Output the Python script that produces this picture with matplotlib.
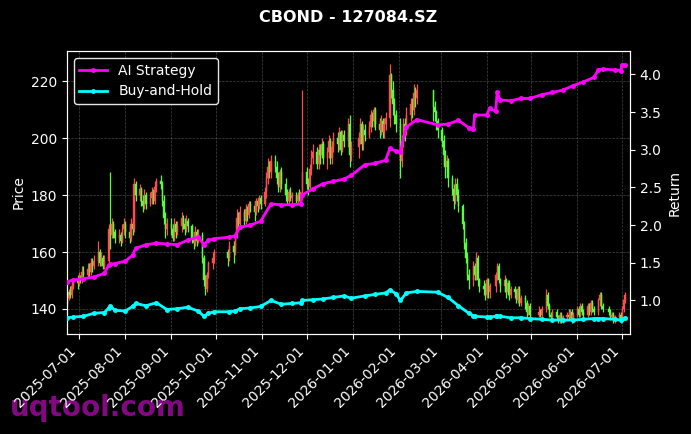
import numpy as np
import pandas as pd
import matplotlib
matplotlib.use("Agg")
import matplotlib.pyplot as plt
import matplotlib.dates as mdates
from matplotlib.lines import Line2D

# ---------------- data ----------------
title = "CBOND - 127084.SZ"
holidays = ["2025-10-01", "2025-10-02", "2025-10-03", "2025-10-06", "2025-10-07",
            "2025-10-08", "2026-01-01", "2026-01-02", "2026-02-16", "2026-02-17",
            "2026-02-18", "2026-02-19", "2026-02-20", "2026-02-23", "2026-04-06",
            "2026-05-01", "2026-05-04", "2026-05-05", "2026-06-19"]
start_date = "2025-06-23"
end_date = "2026-07-03"
first_open = 142

closes = [
    144, 146, 145, 148, 150,
    149, 151, 150, 153, 152,
    154, 153, 156, 155, 157,
    160, 156, 158, 155, 157,
    168, 166, 170, 167, 165,
    166, 164, 168, 170, 167,
    165, 170, 168, 184, 180,
    182, 178, 176, 180, 177,
    179, 181, 178, 183, 185,
    184, 178, 172, 168, 170,
    168, 165, 170, 167, 169,
    172, 170, 168, 171, 169,
    165, 163, 167, 164, 166,
    158, 150, 147, 152, 156,
    158, 160,
    158, 162,
    160, 166, 172, 170, 174,
    171, 175, 173, 177, 176,
    174, 178, 176, 179, 177,
    181, 186, 190, 188, 192,
    190, 186, 183, 188, 184,
    180, 178, 181, 179, 180,
    178, 180, 179, 181, 188,
    184, 183, 189, 193, 195,
    191, 196, 194, 198, 193,
    195, 199, 193, 197, 200,
    198, 202, 196, 201, 199,
    205, 194, 197,
    200, 205, 198, 203, 201,
    204, 208, 206, 210, 205,
    203, 206, 202, 205, 207,
    222, 217, 212, 208, 205,
    192, 199, 205, 203, 208,
    212, 210, 216, 214, 217,
    211, 209, 206, 203,
    199, 194, 190, 192, 186,
    182, 178, 184, 180, 176,
    170, 163, 158, 152, 150,
    155, 152, 158, 150, 148,
    147, 145, 150, 146, 148,
    152, 155, 150, 148,
    150, 146, 149, 145, 147,
    146, 143, 147, 142, 144,
    142, 139, 141, 138,
    139, 138, 140,
    145, 141, 138, 137, 139,
    137, 136, 138, 136, 137,
    138, 137, 139, 136, 138,
    140, 138, 141, 139, 138,
    141, 139, 142, 140, 139,
    143, 145, 141, 140,
    139, 137, 138, 136, 137,
    138, 136, 140, 143, 145,
]

highs = [
    146, 147, 148, 149, 151,
    152, 153, 152, 155, 155,
    156, 156, 158, 158, 159,
    164, 161, 160, 159, 159,
    170, 188, 172, 171, 168,
    168, 167, 170, 172, 171,
    169, 172, 171, 186, 185,
    184, 183, 180, 182, 181,
    181, 183, 182, 185, 186,
    187, 185, 180, 174, 172,
    172, 170, 172, 171, 171,
    174, 173, 172, 173, 172,
    170, 167, 169, 168, 168,
    167, 159, 152, 153, 157,
    160, 161,
    161, 164,
    164, 167, 175, 174, 176,
    175, 177, 176, 178, 178,
    178, 179, 179, 180, 180,
    183, 188, 193, 192, 194,
    194, 192, 188, 189, 190,
    186, 182, 182, 183, 181,
    181, 181, 182, 181, 217,
    190, 186, 191, 196, 198,
    197, 198, 198, 200, 199,
    197, 201, 200, 199, 202,
    202, 204, 203, 203, 203,
    207, 208, 199,
    202, 207, 206, 205, 205,
    206, 210, 209, 211, 211,
    207, 208, 207, 207, 209,
    226, 223, 220, 214, 210,
    207, 201, 207, 207, 211,
    214, 214, 219, 218, 219,
    213, 213, 210, 207,
    204, 201, 196, 194, 193,
    187, 184, 186, 186, 182,
    177, 171, 165, 160, 154,
    157, 156, 160, 159, 151,
    150, 149, 151, 151, 149,
    153, 156, 156, 151,
    152, 151, 150, 150, 148,
    148, 147, 148, 148, 145,
    145, 143, 142, 142,
    141, 140, 141,
    147, 146, 142, 139, 140,
    140, 138, 139, 139, 138,
    139, 140, 140, 140, 139,
    141, 141, 142, 142, 140,
    142, 142, 143, 143, 141,
    144, 146, 146, 142,
    141, 140, 139, 139, 138,
    139, 139, 141, 144, 146,
]

lows = [
    141, 143, 144, 144, 147,
    147, 148, 149, 149, 150,
    151, 151, 152, 153, 154,
    155, 155, 155, 154, 154,
    156, 161, 165, 165, 163,
    163, 162, 163, 166, 165,
    163, 164, 166, 167, 178,
    178, 176, 174, 175, 175,
    176, 177, 177, 177, 181,
    182, 176, 170, 165, 166,
    166, 164, 164, 165, 166,
    167, 168, 166, 167, 167,
    163, 161, 162, 162, 163,
    156, 148, 145, 146, 151,
    154, 156,
    155, 157,
    156, 159, 165, 168, 169,
    169, 170, 171, 172, 174,
    171, 173, 174, 175, 175,
    176, 179, 184, 186, 186,
    188, 184, 181, 181, 182,
    178, 177, 177, 178, 177,
    177, 177, 178, 177, 180,
    182, 180, 182, 187, 191,
    189, 189, 191, 193, 191,
    189, 193, 191, 191, 195,
    195, 196, 194, 195, 197,
    197, 190, 192,
    193, 198, 196, 196, 199,
    200, 202, 204, 204, 203,
    200, 201, 200, 200, 203,
    204, 214, 208, 205, 202,
    186, 190, 197, 199, 201,
    206, 207, 208, 211, 212,
    206, 206, 203, 200,
    197, 191, 186, 188, 183,
    180, 175, 177, 178, 174,
    168, 161, 156, 150, 147,
    148, 150, 150, 148, 146,
    145, 143, 144, 144, 144,
    146, 150, 149, 146,
    146, 144, 145, 143, 144,
    144, 142, 142, 141, 141,
    140, 137, 138, 137,
    137, 137, 137,
    139, 140, 137, 136, 136,
    136, 135, 135, 135, 135,
    136, 136, 136, 135, 135,
    137, 137, 137, 138, 137,
    137, 138, 138, 139, 138,
    138, 141, 140, 139,
    138, 136, 136, 135, 135,
    136, 135, 135, 139, 142,
]

line_dates = [
    "2025-06-23", "2025-06-27", "2025-07-04", "2025-07-11", "2025-07-18",
    "2025-07-21", "2025-07-22", "2025-07-25", "2025-08-01", "2025-08-06",
    "2025-08-08", "2025-08-15", "2025-08-22", "2025-08-29", "2025-09-05",
    "2025-09-12", "2025-09-19", "2025-09-23", "2025-09-26", "2025-09-30",
    "2025-10-10", "2025-10-14", "2025-10-17", "2025-10-24", "2025-10-31",
    "2025-11-07", "2025-11-14", "2025-11-21", "2025-11-27", "2025-11-28",
    "2025-12-05", "2025-12-12", "2025-12-19", "2025-12-26", "2025-12-31",
    "2026-01-09", "2026-01-16", "2026-01-23", "2026-01-26", "2026-01-30",
    "2026-02-02", "2026-02-06", "2026-02-13", "2026-02-27", "2026-03-06",
    "2026-03-13", "2026-03-20", "2026-03-23", "2026-03-24", "2026-04-01",
    "2026-04-03", "2026-04-07", "2026-04-08", "2026-04-10", "2026-04-17",
    "2026-04-24", "2026-04-30", "2026-05-08", "2026-05-15", "2026-05-22",
    "2026-05-29", "2026-06-05", "2026-06-12", "2026-06-15", "2026-06-18",
    "2026-06-26", "2026-06-30", "2026-07-01", "2026-07-03",
]
ai_strategy = [
    1.25, 1.27, 1.29, 1.31, 1.36,
    1.47, 1.48, 1.49, 1.52, 1.60,
    1.69, 1.74, 1.76, 1.75, 1.74,
    1.80, 1.84, 1.74, 1.80, 1.82,
    1.84, 1.86, 1.97, 2.00, 2.05,
    2.28, 2.27, 2.27, 2.28, 2.40,
    2.48, 2.55, 2.58, 2.61, 2.66,
    2.80, 2.82, 2.86, 3.02, 2.98,
    2.97, 3.30, 3.40, 3.33, 3.34,
    3.39, 3.29, 3.28, 3.46, 3.46,
    3.55, 3.51, 3.76, 3.66, 3.65,
    3.68, 3.68, 3.73, 3.76, 3.79,
    3.85, 3.90, 3.96, 4.06, 4.07,
    4.06, 4.05, 4.13, 4.12,
]
buy_and_hold = [
    0.77, 0.78, 0.79, 0.83, 0.84,
    0.90, 0.93, 0.87, 0.86, 0.92,
    0.96, 0.93, 0.97, 0.88, 0.89,
    0.91, 0.86, 0.79, 0.83, 0.85,
    0.85, 0.86, 0.89, 0.90, 0.92,
    1.00, 0.95, 0.96, 0.97, 1.00,
    1.01, 1.02, 1.04, 1.06, 1.03,
    1.06, 1.08, 1.10, 1.14, 1.09,
    1.00, 1.10, 1.12, 1.11, 1.04,
    0.93, 0.83, 0.80, 0.79, 0.78,
    0.78, 0.79, 0.80, 0.79, 0.77,
    0.77, 0.76, 0.75, 0.74, 0.74,
    0.74, 0.75, 0.76, 0.76, 0.76,
    0.75, 0.74, 0.76, 0.77,
]

# ---------------- build ----------------
dates = pd.bdate_range(start_date, end_date)
dates = dates[~dates.isin(pd.to_datetime(holidays))]
n = min(len(dates), len(closes))
dates = dates[:n]
closes = np.array(closes[:n], dtype=float)
opens = np.concatenate([[first_open], closes[:-1]])
highs = np.maximum(np.array(highs[:n], dtype=float), np.maximum(opens, closes))
lows = np.minimum(np.array(lows[:n], dtype=float), np.minimum(opens, closes))
xd = mdates.date2num(dates.to_pydatetime())

up_color = "#ff4d4d"
down_color = "#55ff3a"
colors = np.where(closes >= opens, up_color, down_color)

fig = plt.figure(figsize=(6.91, 4.34), dpi=100, facecolor="black")
ax = fig.add_axes([67 / 691, 1 - 334 / 434, 563 / 691, 283 / 434])
ax.set_facecolor("black")

ax.vlines(xd, lows, highs, colors=colors, linewidth=0.9, zorder=2)
body_bottom = np.minimum(opens, closes)
body_h = np.maximum(np.abs(closes - opens), 0.3)
ax.bar(xd, body_h, bottom=body_bottom, width=0.8, color=colors,
       edgecolor=colors, linewidth=0.3, zorder=2)

ax.set_ylim(131.2, 230.6)
x0 = mdates.date2num(pd.Timestamp("2025-07-01").to_pydatetime())
ax.set_xlim(x0 - 8.06, x0 + 370.3)
ax.set_yticks([140, 160, 180, 200, 220])
ax.xaxis.set_major_locator(mdates.MonthLocator())
ax.xaxis.set_major_formatter(mdates.DateFormatter("%Y-%m-%d"))
for lab in ax.get_xticklabels():
    lab.set_rotation(45)
    lab.set_ha("right")
ax.grid(True, color="#888888", linestyle="--", linewidth=0.5, alpha=0.5)
ax.set_axisbelow(True)
ax.set_ylabel("Price", color="white", fontsize=10)
ax.tick_params(colors="white", labelsize=10)
for s in ax.spines.values():
    s.set_color("white")

ax2 = ax.twinx()
ld = mdates.date2num(pd.to_datetime(line_dates).to_pydatetime())
ax2.plot(ld, ai_strategy, color="#ff00ff", linewidth=2, marker="o",
         markersize=2.5, label="AI Strategy", zorder=3)
ax2.plot(ld, buy_and_hold, color="#00ffff", linewidth=2, marker="o",
         markersize=2.5, label="Buy-and-Hold", zorder=3)
ax2.set_ylim(0.555, 4.31)
ax2.set_yticks([1.0, 1.5, 2.0, 2.5, 3.0, 3.5, 4.0])
ax2.yaxis.set_major_formatter(matplotlib.ticker.FormatStrFormatter("%.1f"))
ax2.set_ylabel("Return", color="white", fontsize=10)
ax2.tick_params(colors="white", labelsize=10)
for s in ax2.spines.values():
    s.set_color("white")
ax2.set_xlim(x0 - 8.06, x0 + 370.3)

leg = ax2.legend(loc="upper left", facecolor="black", edgecolor="white",
                 fontsize=10, framealpha=0.9)
for t in leg.get_texts():
    t.set_color("white")

fig.text(0.504, 1 - 18 / 434, title, color="white", fontsize=11.5,
         fontweight="bold", ha="center", va="center")
fig.text(0.014, 1 - 408 / 434, "uqtool.com", color="#8a0a8a", fontsize=20,
         fontweight="bold", ha="left", va="center", alpha=0.95, zorder=-1)

fig.savefig("out.png", dpi=100, facecolor="black")
